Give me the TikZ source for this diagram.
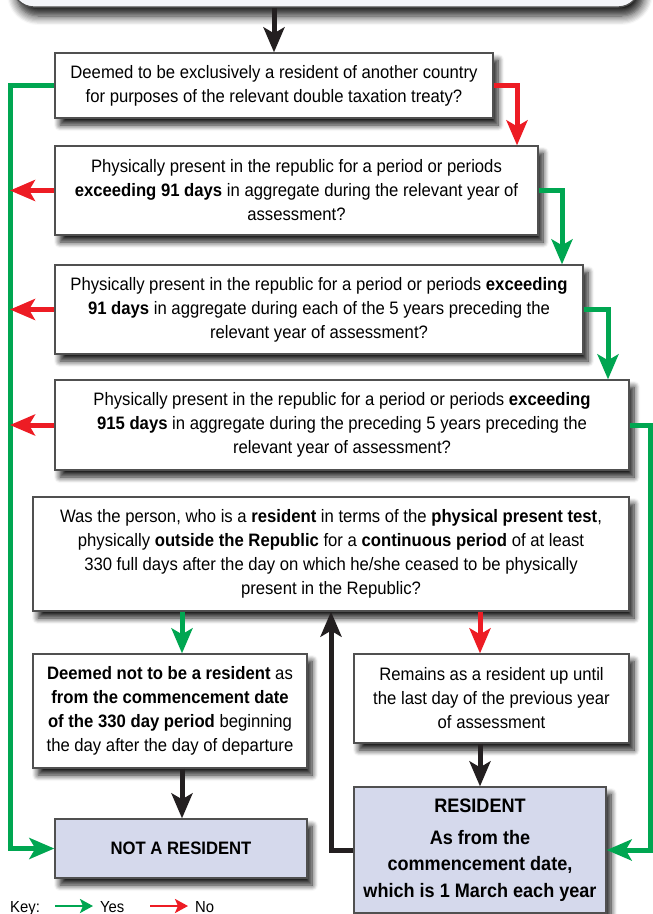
\documentclass[tikz,border=0pt]{standalone}
\usepackage{fontspec}
\setmainfont{Liberation Sans}[FakeStretch=0.927]
\usetikzlibrary{arrows.meta,shadows.blur,calc}
\definecolor{yesc}{HTML}{00A651}
\definecolor{noc}{HTML}{ED1C24}
\definecolor{blk}{HTML}{231F20}
\definecolor{bord}{HTML}{505050}
\definecolor{term}{HTML}{D5D9EC}
\definecolor{topf}{HTML}{F4F5F9}
\tikzset{
  qbox/.style={draw=bord, line width=1.3pt, fill=white, align=center, inner sep=0pt,
    font=\fontsize{18}{24}\selectfont,
    blur shadow={shadow xshift=5pt, shadow yshift=-7pt, shadow blur radius=6pt, shadow opacity=90, shadow blur steps=8}},
  tbox/.style={qbox, fill=term},
  con/.style={line width=5pt, -{Stealth[length=25pt,width=21pt,inset=6pt]}},
  yes/.style={con, draw=yesc},
  no/.style={con, draw=noc},
  blkarrow/.style={con, draw=blk},
  keyarrow/.style={line width=2.8pt, -{Stealth[length=13pt,width=14pt,inset=3pt]}},
  keytext/.style={font=\fontsize{16}{18}\selectfont, anchor=base west, inner sep=0pt}
}
\begin{document}
\begin{tikzpicture}[x=1pt,y=-1pt]
\useasboundingbox (0,0) rectangle (653,914);
% top (cut off) box
\node[draw=bord, line width=1.3pt, fill=topf, rounded corners=22pt, minimum width=628pt, minimum height=60pt, inner sep=0pt,
  blur shadow={shadow xshift=4pt, shadow yshift=-9pt, shadow blur radius=9pt, shadow opacity=90, shadow blur steps=8}] (top) at (326,-23) {};
% question boxes
\node[qbox, minimum width=438pt, minimum height=65pt] (b1) at (274,85.5)
 {Deemed to be exclusively a resident of another country\\for purposes of the relevant double taxation treaty?};
\node[qbox, minimum width=483pt, minimum height=89pt] (b2) at (296.5,190.5)
 {Physically present in the republic for a period or periods\\\textbf{exceeding 91 days} in aggregate during the relevant year of\\assessment?};
\node[qbox, minimum width=528pt, minimum height=89pt] (b3) at (319,309.5)
 {Physically present in the republic for a period or periods \textbf{exceeding}\\\textbf{91 days} in aggregate during each of the 5 years preceding the\\relevant year of assessment?};
\node[qbox, minimum width=574pt, minimum height=90pt] (b4) at (342,425)
 {Physically present in the republic for a period or periods \textbf{exceeding}\\\textbf{915 days} in aggregate during the preceding 5 years preceding the\\relevant year of assessment?};
\node[qbox, minimum width=596pt, minimum height=114pt] (b5) at (331,554)
 {Was the person, who is a \textbf{resident} in terms of the \textbf{physical present test},\\physically \textbf{outside the Republic} for a \textbf{continuous period} of at least\\330 full days after the day on which he/she ceased to be physically\\present in the Republic?};
\node[qbox, minimum width=274pt, minimum height=114pt] (b6) at (170,711)
 {\textbf{Deemed not to be a resident} as\\\textbf{from the commencement date}\\\textbf{of the 330 day period} beginning\\the day after the day of departure};
\node[qbox, minimum width=275pt, minimum height=89pt] (b7) at (491.5,698.5)
 {Remains as a resident up until\\the last day of the previous year\\of assessment};
\node[tbox, minimum width=252pt, minimum height=59pt, font=\fontsize{18}{24}\selectfont\bfseries] (nr) at (181,848.5) {NOT A RESIDENT};
\node[tbox, minimum width=252pt, minimum height=126pt, font=\fontsize{19.5}{26.5}\selectfont\bfseries] (res) at (480,850)
 {RESIDENT\\[5pt]As from the\\commencement date,\\which is 1 March each year};
% rail coordinates
\coordinate (rail) at (10,0);
\coordinate (c1) at (517,0);
\coordinate (c2) at (562,0);
\coordinate (c3) at (608,0);
\coordinate (c4) at (650,0);
\coordinate (c5) at (182,0);
\coordinate (c6) at (480,0);
% connectors
\draw[blkarrow] (top.south -| b1.north) -- (b1.north);
\draw[yes] (b1.west) -| (rail |- b1.west) |- (nr.west);
\draw[no] (b1.east) -| (c1 |- b2.north);
\draw[no] (b2.west) -- (rail |- b2.west);
\draw[yes] (b2.east) -| (c2 |- b3.north);
\draw[no] (b3.west) -- (rail |- b3.west);
\draw[yes] (b3.east) -| (c3 |- b4.north);
\draw[no] (b4.west) -- (rail |- b4.west);
\draw[yes] (b4.east) -| (c4 |- res.east) -- (res.east);
\draw[yes] (c5 |- b5.south) -- (c5 |- b6.north);
\draw[no] (c6 |- b5.south) -- (c6 |- b7.north);
\draw[blkarrow] (c5 |- b6.south) -- (c5 |- nr.north);
\draw[blkarrow] (res.north |- b7.south) -- (res.north);
\draw[blkarrow] (res.west) -| (b5.south);
% key
\node[keytext] (key) at (10,912) {Key:};
\coordinate (ky1) at (55,906);
\coordinate (ky2) at (93,906);
\coordinate (kn1) at (150,906);
\coordinate (kn2) at (188,906);
\draw[keyarrow, draw=yesc] (ky1) -- (ky2);
\node[keytext] (yes) at (100,912) {Yes};
\draw[keyarrow, draw=noc] (kn1) -- (kn2);
\node[keytext] (no) at (195,912) {No};
\end{tikzpicture}
\end{document}
